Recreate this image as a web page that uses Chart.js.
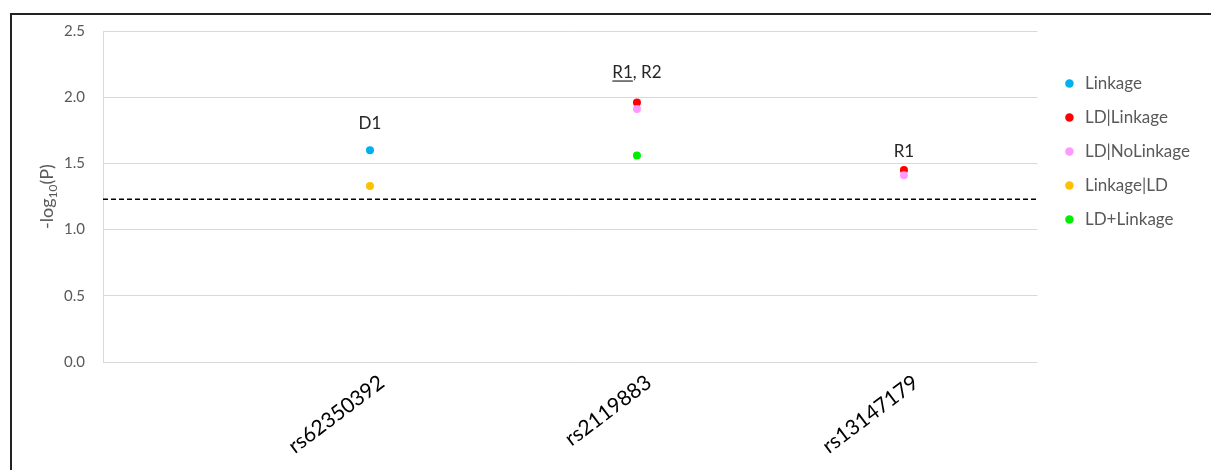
<!DOCTYPE html>
<html>
<head>
<meta charset="utf-8">
<script src="https://cdn.jsdelivr.net/npm/chart.js@4"></script>
<style>
  body { margin: 0; background: #fff; }
  #wrap { position: relative; width: 1211px; height: 470px; overflow: hidden; }
  #myChart { position: absolute; left: 0; top: 0; }
  #frame { position: absolute; left: 10px; top: 13px; width: 1300px; height: 500px;
           border-top: 2px solid #222; border-left: 2px solid #222; pointer-events: none; }
</style>
</head>
<body>
<div id="wrap">
  <canvas id="myChart" width="1211" height="470"></canvas>
  <div id="frame"></div>
</div>
<script>
const snps = ['rs62350392', 'rs2119883', 'rs13147179'];

// -log10(P) por SNP (null = sem ponto)
const linkage           = [1.60, null, null];
const ldGivenLinkage    = [null, 1.96, 1.45];
const ldGivenNoLinkage  = [null, 1.91, 1.41];
const linkageGivenLd    = [1.33, null, null];
const ldPlusLinkage     = [null, 1.56, null];

const threshold = 1.23;

// rótulos acima dos pontos
const annotText      = ['D1', 'R1, R2', 'R1'];
const annotUnderline = ['', 'R1', ''];
const annotY         = [1.80, 2.19, 1.59];

const yTicks = [0, 0.5, 1.0, 1.5, 2.0, 2.5];

const FONT = 'Lato, "Open Sans", sans-serif';

function toPoints(values) {
    return values.map((v, i) => v == null ? null : { x: i + 1, y: v }).filter(p => p);
}

const series = [
    { label: 'Linkage',      values: linkage,          color: '#00B0F0' },
    { label: 'LD|Linkage',   values: ldGivenLinkage,   color: '#FF0000' },
    { label: 'LD|NoLinkage', values: ldGivenNoLinkage, color: '#FF99FF' },
    { label: 'Linkage|LD',   values: linkageGivenLd,   color: '#FFC000' },
    { label: 'LD+Linkage',   values: ldPlusLinkage,    color: '#00EE00' }
];

const datasets = series.map((s, i) => ({
    label: s.label,
    data: toPoints(s.values),
    backgroundColor: s.color,
    borderColor: s.color,
    pointRadius: 4,
    pointHoverRadius: 4,
    borderWidth: 0,
    order: 5 - i // as séries seguintes ficam por cima
}));

datasets.push({
    label: 'threshold',
    type: 'line',
    data: [{ x: 0, y: threshold }, { x: 3.5, y: threshold }],
    borderColor: '#000',
    borderWidth: 1.5,
    borderDash: [5, 3],
    pointRadius: 0,
    fill: false,
    order: 10
});

const annotations = {
    id: 'annotations',
    afterDatasetsDraw(chart) {
        const { ctx, scales: { x, y } } = chart;
        ctx.save();
        ctx.font = '17px ' + FONT;
        ctx.fillStyle = '#262626';
        ctx.strokeStyle = '#262626';
        ctx.textAlign = 'left';
        ctx.textBaseline = 'middle';
        annotText.forEach((t, i) => {
            const cx = x.getPixelForValue(i + 1);
            const cy = y.getPixelForValue(annotY[i]);
            const w = ctx.measureText(t).width;
            const left = cx - w / 2;
            ctx.fillText(t, left, cy);
            if (annotUnderline[i]) {
                const uw = ctx.measureText(annotUnderline[i]).width;
                ctx.lineWidth = 1.2;
                ctx.beginPath();
                ctx.moveTo(left, cy + 9);
                ctx.lineTo(left + uw, cy + 9);
                ctx.stroke();
            }
        });
        ctx.restore();
    }
};

// título do eixo y com subscrito de verdade
const yTitle = {
    id: 'yTitle',
    afterDraw(chart) {
        const { ctx, chartArea } = chart;
        const parts = [
            { t: '-log', size: 18, dy: 0 },
            { t: '10', size: 12, dy: 4 },
            { t: '(P)', size: 18, dy: 0 }
        ];
        ctx.save();
        ctx.fillStyle = '#595959';
        ctx.textBaseline = 'alphabetic';
        ctx.textAlign = 'left';
        let total = 0;
        parts.forEach(p => { ctx.font = p.size + 'px ' + FONT; p.w = ctx.measureText(p.t).width; total += p.w; });
        ctx.translate(53, (chartArea.top + chartArea.bottom) / 2);
        ctx.rotate(-Math.PI / 2);
        let px = -total / 2;
        parts.forEach(p => {
            ctx.font = p.size + 'px ' + FONT;
            ctx.fillText(p.t, px, p.dy);
            px += p.w;
        });
        ctx.restore();
    }
};

const ctx = document.getElementById('myChart').getContext('2d');

const myChart = new Chart(ctx, {
    type: 'scatter',
    data: { datasets: datasets },
    options: {
        responsive: false,
        animation: false,
        layout: { padding: { left: 35, top: 31, right: 11, bottom: 0 } },
        scales: {
            x: {
                type: 'linear',
                min: 0,
                max: 3.5,
                afterBuildTicks: s => { s.ticks = snps.map((_, i) => ({ value: i + 1 })); },
                afterFit: s => { s.height = 108; },
                grid: { display: false },
                border: { display: false },
                ticks: {
                    autoSkip: false,
                    minRotation: 37,
                    maxRotation: 37,
                    padding: 0,
                    labelOffset: 12,
                    color: '#000',
                    font: { family: FONT, size: 21 },
                    callback: v => snps[v - 1] || ''
                }
            },
            y: {
                min: 0,
                max: 2.5,
                afterBuildTicks: s => { s.ticks = yTicks.map(v => ({ value: v })); },
                afterFit: s => { s.width = 68; },
                grid: { color: '#d9d9d9', lineWidth: 1, drawTicks: false },
                border: { display: true, color: '#d9d9d9' },
                ticks: {
                    padding: 18,
                    color: '#595959',
                    font: { family: FONT, size: 15 },
                    callback: v => Number(v).toFixed(1)
                }
            },
            // eixo vazio só para afastar a legenda da área do gráfico
            gap: {
                position: 'right',
                min: 0,
                max: 1,
                afterFit: s => { s.width = 8; },
                grid: { display: false },
                border: { display: false },
                ticks: { display: false }
            }
        },
        plugins: {
            legend: {
                position: 'right',
                align: 'start',
                title: { display: true, text: '', padding: { top: 15, bottom: 0 }, font: { size: 10 } },
                labels: {
                    usePointStyle: true,
                    pointStyle: 'circle',
                    boxWidth: 14,
                    boxHeight: 6,
                    padding: 17,
                    color: '#595959',
                    font: { family: FONT, size: 17 },
                    filter: item => item.text !== 'threshold',
                    sort: (a, b) => a.datasetIndex - b.datasetIndex
                }
            },
            tooltip: { enabled: false }
        }
    },
    plugins: [annotations, yTitle]
});
</script>
</body>
</html>
